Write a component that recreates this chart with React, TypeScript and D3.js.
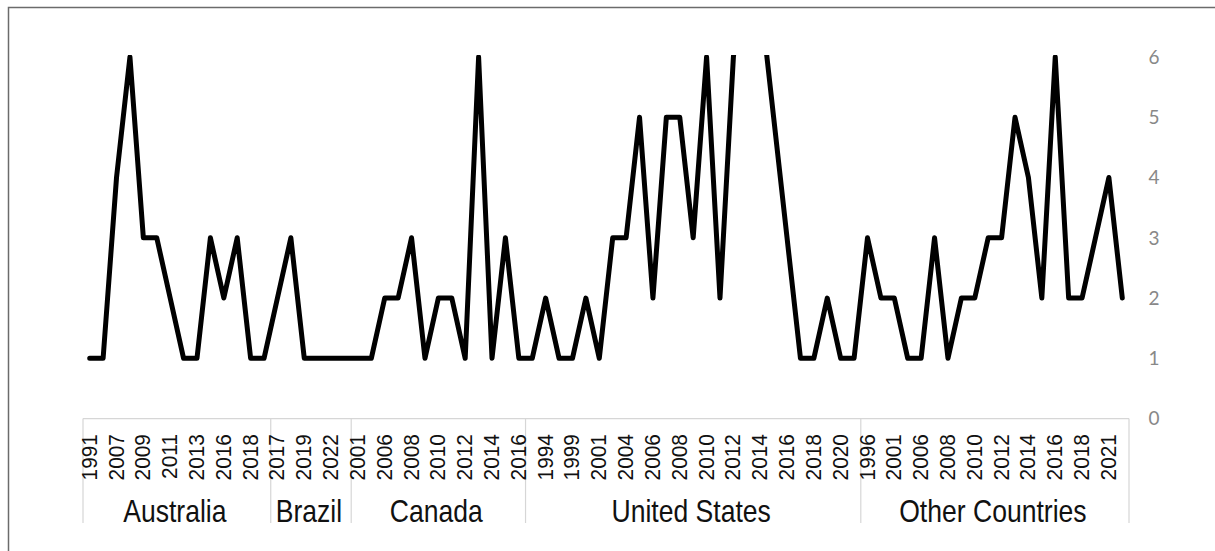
import React from "react";
import * as d3 from "d3";

// ---- data ----
const groupNames = ["Australia", "Brazil", "Canada", "United States", "Other Countries"];

const australiaYears = ["1991", "2006", "2007", "2008", "2009", "2010", "2011", "2012", "2013", "2015", "2016", "2017", "2018", "2019"];
const australiaValues = [1, 1, 4, 6, 3, 3, 2, 1, 1, 3, 2, 3, 1, 1];

const brazilYears = ["2017", "2018", "2019", "2021", "2022", "2023"];
const brazilValues = [2, 3, 1, 1, 1, 1];

const canadaYears = ["2001", "2004", "2006", "2007", "2008", "2009", "2010", "2011", "2012", "2013", "2014", "2015", "2016"];
const canadaValues = [1, 1, 2, 2, 3, 1, 2, 2, 1, 6, 1, 3, 1];

const usYears = ["1992", "1994", "1997", "1999", "2000", "2001", "2003", "2004", "2005", "2006", "2007", "2008", "2009", "2010", "2011", "2012", "2013", "2014", "2015", "2016", "2017", "2018", "2019", "2020", "2021"];
const usValues = [1, 2, 1, 1, 2, 1, 3, 3, 5, 2, 5, 5, 3, 6, 2, 6, 8, 7, 5, 3, 1, 1, 2, 1, 1];

const otherYears = ["1996", "1999", "2001", "2005", "2006", "2007", "2008", "2009", "2010", "2011", "2012", "2013", "2014", "2015", "2016", "2017", "2018", "2019", "2021", "2022"];
const otherValues = [3, 2, 2, 1, 1, 3, 1, 2, 2, 3, 3, 5, 4, 2, 6, 2, 2, 3, 4, 2];

const yTicks = [0, 1, 2, 3, 4, 5, 6];

// ---- build the flat category list ----
const groupYears = [australiaYears, brazilYears, canadaYears, usYears, otherYears];
const groupValues = [australiaValues, brazilValues, canadaValues, usValues, otherValues];

type Pt = { idx: number; year: string; value: number; group: number };
const points: Pt[] = [];
const groupRanges: { name: string; start: number; end: number }[] = [];
{
  let k = 0;
  groupYears.forEach((ys, g) => {
    const start = k;
    ys.forEach((y, j) => {
      points.push({ idx: k, year: y, value: groupValues[g][j], group: g });
      k++;
    });
    groupRanges.push({ name: groupNames[g], start, end: k });
  });
}

const W = 1215;
const H = 551;
const left = 83;
const right = 1129;
const axisY = 418.6;
const topY = 57;

export default function App() {
  const x = d3
    .scaleBand<number>()
    .domain(points.map((p) => p.idx))
    .range([left, right])
    .paddingInner(0)
    .paddingOuter(0);
  const bw = x.bandwidth();
  const cx = (i: number) => (x(i) as number) + bw / 2;
  const y = d3.scaleLinear().domain([0, 6]).range([axisY, topY]);

  const line = d3
    .line<Pt>()
    .x((d) => cx(d.idx))
    .y((d) => y(d.value));

  const boundaries = [left, ...groupRanges.map((g) => (x(g.end - 1) as number) + bw)];

  return (
    <svg
      width={W}
      height={H}
      style={{ position: "absolute", left: 0, top: 0, background: "#fff" }}
      fontFamily="'Liberation Sans', Arial, sans-serif"
    >
      <defs>
        <clipPath id="plotclip">
          <rect x={0} y={55} width={W} height={H} />
        </clipPath>
      </defs>
      {/* outer frame (top & left visible) */}
      <rect x={8.5} y={7.5} width={W + 20} height={H + 20} fill="none" stroke="#6b6b6b" strokeWidth={1.5} />

      {/* category axis line */}
      <line x1={left} x2={right} y1={axisY} y2={axisY} stroke="#d6d6d6" strokeWidth={1.2} />
      {boundaries.map((bx, i) => (
        <line key={i} x1={bx} x2={bx} y1={axisY} y2={523} stroke="#d6d6d6" strokeWidth={1.2} />
      ))}

      {/* year labels, every other category */}
      {points
        .filter((p) => p.idx % 2 === 0)
        .map((p) => (
          <text
            key={p.idx}
            transform={`translate(${cx(p.idx) + 7},434) rotate(-90) scale(0.95,1)`}
            textAnchor="end"
            fontSize={22}
            fill="#111"
          >
            {p.year}
          </text>
        ))}

      {/* group labels */}
      {groupRanges.map((g, i) => {
        const mid = ((x(g.start) as number) + (x(g.end - 1) as number) + bw) / 2 - 2;
        return (
          <text
            key={i}
            transform={`translate(${mid},521.5) scale(0.83,1)`}
            textAnchor="middle"
            fontSize={32}
            fill="#111"
          >
            {g.name}
          </text>
        );
      })}

      {/* right value axis labels */}
      {yTicks.map((t) => (
        <text
          key={t}
          x={1154}
          y={y(t)}
          dy="0.36em"
          textAnchor="middle"
          fontSize={19}
          fontFamily="Lato, 'Open Sans', sans-serif"
          fill="#888"
        >
          {t}
        </text>
      ))}

      {/* data line */}
      <path
        d={line(points) || ""}
        fill="none"
        stroke="#000"
        strokeWidth={5}
        strokeLinejoin="round"
        strokeLinecap="round"
        clipPath="url(#plotclip)"
      />
    </svg>
  );
}
